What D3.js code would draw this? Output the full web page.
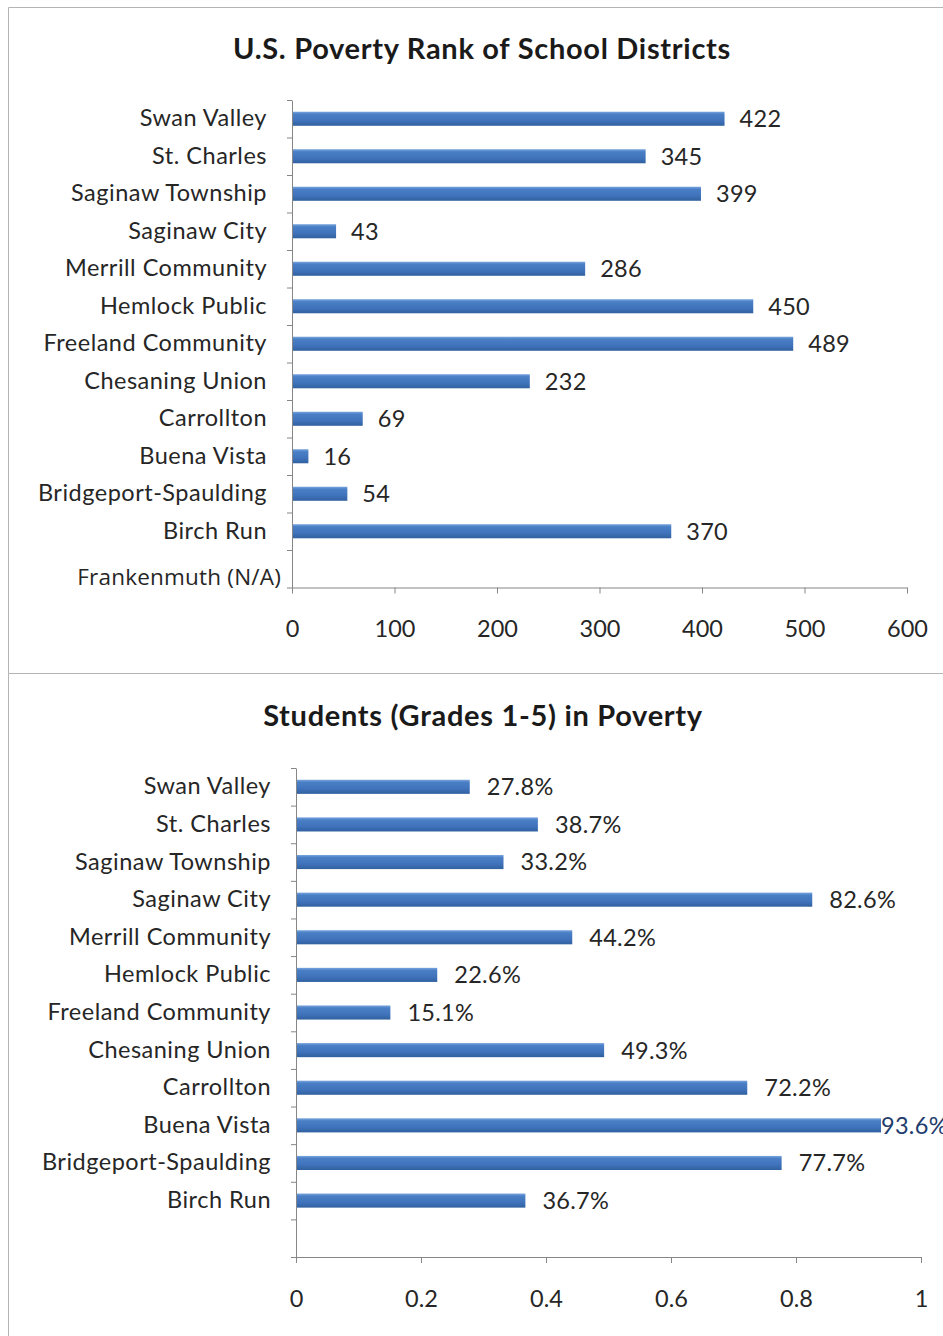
<!DOCTYPE html>
<html>
<head>
<meta charset="utf-8">
<script src="https://cdn.jsdelivr.net/npm/d3@7"></script>
<style>
  html, body { margin: 0; padding: 0; background: #fff; }
  svg { display: block; }
  .cat text { font-family: Lato, "Open Sans", sans-serif; font-size: 23.5px; letter-spacing: 0.5px; fill: #262626; }
  .xax text { font-family: Lato, "Open Sans", sans-serif; font-size: 23.5px; fill: #262626; }
  .val { font-family: Lato, "Open Sans", sans-serif; font-size: 23.5px; letter-spacing: 0.3px; fill: #262626; }
  .title { font-family: Lato, "Open Sans", sans-serif; font-size: 29px; letter-spacing: 0.7px; font-weight: bold; fill: #1a1a1a; }
</style>
</head>
<body>
<svg id="chart" width="943" height="1336"></svg>
<script>
// ---- data ----
const rankCategories = ["Swan Valley", "St. Charles", "Saginaw Township", "Saginaw City",
  "Merrill Community", "Hemlock Public", "Freeland Community", "Chesaning Union",
  "Carrollton", "Buena Vista", "Bridgeport-Spaulding", "Birch Run", "Frankenmuth (N/A)"];
const rankValues = [422, 345, 399, 43, 286, 450, 489, 232, 69, 16, 54, 370, null];
const rankTicks = [0, 100, 200, 300, 400, 500, 600];

const povCategories = ["Swan Valley", "St. Charles", "Saginaw Township", "Saginaw City",
  "Merrill Community", "Hemlock Public", "Freeland Community", "Chesaning Union",
  "Carrollton", "Buena Vista", "Bridgeport-Spaulding", "Birch Run", ""];
const povValues = [0.278, 0.387, 0.332, 0.826, 0.442, 0.226, 0.151, 0.493, 0.722, 0.936, 0.777, 0.367, null];
const povTicks = [0, 0.2, 0.4, 0.6, 0.8, 1];

const titles = ["U.S. Poverty Rank of School Districts", "Students (Grades 1-5) in Poverty"];

// ---- drawing ----
const svg = d3.select("#chart");
const defs = svg.append("defs");
const grad = defs.append("linearGradient").attr("id", "barGrad")
  .attr("x1", 0).attr("y1", 0).attr("x2", 0).attr("y2", 1);
grad.append("stop").attr("offset", "0%").attr("stop-color", "#79a6de");
grad.append("stop").attr("offset", "18%").attr("stop-color", "#4a7fc6");
grad.append("stop").attr("offset", "65%").attr("stop-color", "#3f72ba");
grad.append("stop").attr("offset", "100%").attr("stop-color", "#30609f");

// frames
const frame = svg.append("g").attr("stroke", "#b4b4b4").attr("fill", "none").attr("stroke-width", 1);
frame.append("path").attr("d", "M943,7.5H8.5V673.5H943");
frame.append("path").attr("d", "M8.5,673.5V1336");

function drawChart(cfg) {
  const g = svg.append("g");
  const x = d3.scaleLinear().domain(cfg.domain).range([cfg.x0, cfg.x1]);
  const pi = 0.625;
  const y = d3.scaleBand().domain(cfg.categories.map((c, i) => i))
    .range([cfg.y0, cfg.y1]).paddingInner(pi).paddingOuter(pi / 2);
  const yb = d3.scaleLinear().domain([0, cfg.categories.length]).range([cfg.y0, cfg.y1]);

  g.append("text").attr("class", "title")
    .attr("x", cfg.titleX).attr("y", cfg.titleY).attr("text-anchor", "middle")
    .attr("dy", "0.35em").text(cfg.title);

  // bars
  const data = cfg.values.map((v, i) => ({ v, i })).filter(d => d.v != null);
  g.selectAll("rect.bar").data(data).join("rect").attr("class", "bar")
    .attr("x", x(0)).attr("y", d => y(d.i))
    .attr("width", d => x(d.v) - x(0)).attr("height", y.bandwidth())
    .attr("fill", "url(#barGrad)");

  // y axis line and boundary ticks
  const yAx = g.append("g").attr("transform", `translate(${x(0)},0)`)
    .call(d3.axisLeft(yb).tickValues(d3.range(0, cfg.categories.length + 1))
      .tickFormat("").tickSize(5).tickSizeOuter(0));
  yAx.selectAll("path, line").attr("stroke", "#868686");

  // category labels
  const cat = g.append("g").attr("class", "cat").attr("transform", `translate(${x(0)},0)`)
    .call(d3.axisLeft(y).tickSize(0).tickPadding(25).tickFormat(i => cfg.categories[i]));
  cat.select(".domain").remove();
  if (cfg.lastLabelStyle) {
    cat.selectAll(".tick").filter(i => i === cfg.categories.length - 1).select("text")
      .style("font-family", "'Open Sans', sans-serif").style("font-size", "22.5px")
      .style("letter-spacing", "0.2px")
      .attr("x", -11).attr("dy", "0.72em");
  }

  // x axis
  const xAx = g.append("g").attr("class", "xax").attr("transform", `translate(0,${cfg.y1})`)
    .call(d3.axisBottom(x).tickValues(cfg.ticks).tickFormat(cfg.tickFmt)
      .tickSize(6).tickSizeOuter(0).tickPadding(27));
  xAx.selectAll("path, line").attr("stroke", "#868686");

  // value labels
  const tight = d => x(d.v) + cfg.gap + 62 > 943;
  g.selectAll("text.val").data(data).join("text").attr("class", "val")
    .attr("x", d => x(d.v) + (tight(d) ? 0 : cfg.gap))
    .attr("y", d => y(d.i) + y.bandwidth() / 2).attr("dy", "0.36em")
    .style("fill", d => tight(d) ? "#1f3c6e" : null)
    .text(d => cfg.valFmt(d.v));
}

drawChart({
  title: titles[0], titleX: 482, titleY: 49,
  categories: rankCategories, values: rankValues, ticks: rankTicks,
  domain: [0, 600], x0: 292, x1: 907, y0: 100, y1: 587.5,
  tickFmt: d3.format("d"), valFmt: d3.format("d"), gap: 15, lastLabelStyle: true
});

drawChart({
  title: titles[1], titleX: 483, titleY: 716,
  categories: povCategories, values: povValues, ticks: povTicks,
  domain: [0, 1], x0: 296, x1: 921, y0: 768, y1: 1257,
  tickFmt: d => d === 0 ? "0" : d === 1 ? "1" : d3.format(".1f")(d),
  valFmt: d3.format(".1%"), gap: 17, lastLabelStyle: false
});
</script>
</body>
</html>
